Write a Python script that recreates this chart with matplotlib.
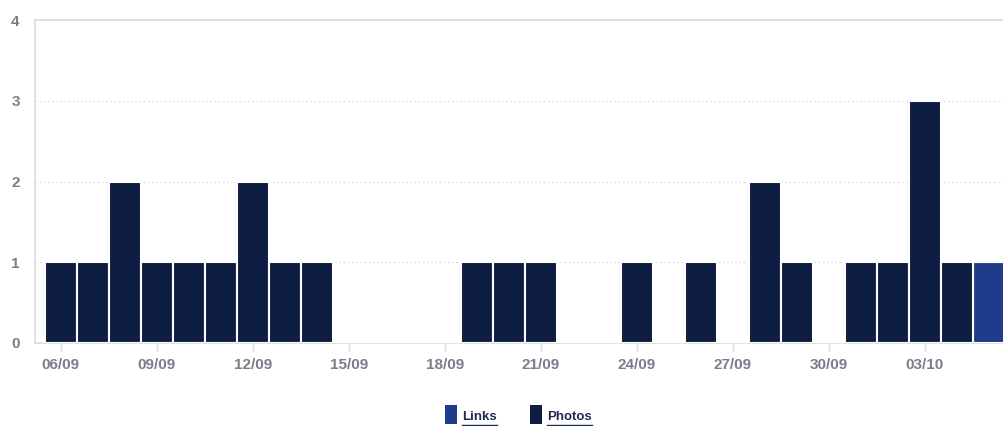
import matplotlib
matplotlib.use("Agg")
import matplotlib.pyplot as plt
from matplotlib.patches import Rectangle
from matplotlib.lines import Line2D
import numpy as np

# Daily counts, 06/09 through 05/10
dates = ["06/09", "07/09", "08/09", "09/09", "10/09", "11/09", "12/09", "13/09",
         "14/09", "15/09", "16/09", "17/09", "18/09", "19/09", "20/09", "21/09",
         "22/09", "23/09", "24/09", "25/09", "26/09", "27/09", "28/09", "29/09",
         "30/09", "01/10", "02/10", "03/10", "04/10", "05/10"]
photos = [1, 1, 2, 1, 1, 1, 2, 1, 1, 0, 0, 0, 0, 1, 1, 1, 0, 0, 1, 0, 1, 0, 2, 1,
          0, 1, 1, 3, 1, 0]
links = [0, 0, 0, 0, 0, 0, 0, 0, 0, 0, 0, 0, 0, 0, 0, 0, 0, 0, 0, 0, 0, 0, 0, 0,
         0, 0, 0, 0, 0, 1]
series_names = ["Links", "Photos"]
yticks = [0, 1, 2, 3, 4]

c_links = "#1e3c8a"
c_photos = "#0e1d42"
c_text = "#7b7e8a"
c_grid = "#d9dbe0"

plt.rcParams["font.family"] = ["Liberation Sans", "DejaVu Sans"]

fig = plt.figure(figsize=(10.04, 4.26), dpi=100)
ax = fig.add_axes([35 / 1004, 83 / 426, 1 - 35 / 1004, 323 / 426])

x = np.arange(len(dates))
ax.bar(x, links, width=1.0, color=c_links, edgecolor="white", linewidth=1.5,
       zorder=3)
ax.bar(x, photos, width=1.0, bottom=links, color=c_photos, edgecolor="white",
       linewidth=1.5, zorder=3)

ax.set_xlim(-0.81, 29.47)
ax.set_ylim(0, 4)

ax.set_yticks(yticks)
ax.set_yticklabels([str(v) for v in yticks], color=c_text, fontsize=11,
                   fontweight="bold")
ax.tick_params(axis="y", length=0, pad=11)

tick_pos = x[::3]
ax.set_xticks(tick_pos)
ax.set_xticklabels([dates[i] for i in tick_pos], color=c_text, fontsize=11,
                   fontweight="bold")
ax.tick_params(axis="x", length=6, color=c_grid, width=1, pad=5)

for v in yticks[1:-1]:
    ax.axhline(v, color=c_grid, linestyle=(0, (1, 2)), linewidth=1, zorder=1)
ax.axhline(4, color=c_grid, linewidth=1.2, zorder=1, clip_on=False)

for side in ["top", "right"]:
    ax.spines[side].set_visible(False)
for side in ["left", "bottom"]:
    ax.spines[side].set_color(c_grid)
    ax.spines[side].set_linewidth(1.2)

# Legend drawn below the plot with underlined labels
fig.canvas.draw()
renderer = fig.canvas.get_renderer()
W, H = 1004, 426
entries = [(series_names[0], c_links, 445), (series_names[1], c_photos, 530)]
for name, col, px in entries:
    fig.patches.append(Rectangle((px / W, (426 - 424) / H), 12 / W, 19 / H,
                                 transform=fig.transFigure, facecolor=col,
                                 edgecolor="none"))
    t = fig.text((px + 17) / W, (426 - 417.5) / H, name, color="#1e2a55",
                 fontsize=9.5, fontweight="bold", ha="left", va="center")
    bb = t.get_window_extent(renderer)
    y_line = (426 - 424.5) / H
    fig.lines.append(Line2D([bb.x0 / W, bb.x1 / W], [y_line, y_line],
                            transform=fig.transFigure, color="#1e2a55",
                            linewidth=1))

fig.savefig("out.png", dpi=100, facecolor="white")
